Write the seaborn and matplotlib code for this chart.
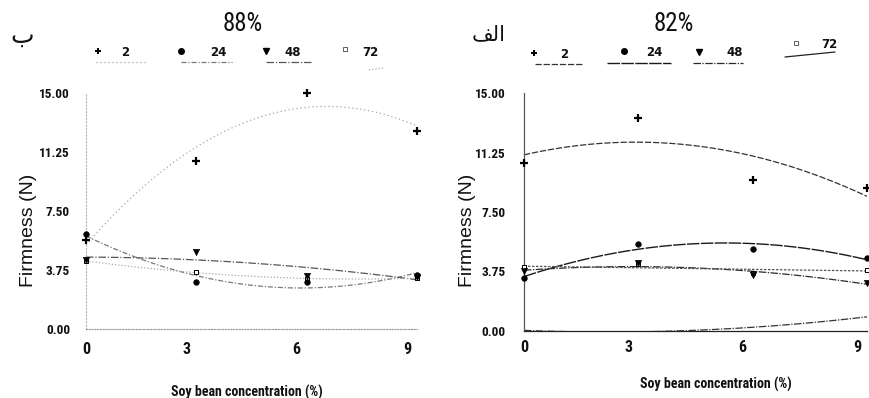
import matplotlib
matplotlib.use("Agg")
import matplotlib.pyplot as plt
import matplotlib.transforms as mtransforms
from matplotlib.lines import Line2D
from matplotlib import font_manager
import pandas as pd
import seaborn as sns

# soybean concentration (%) and storage time (h)
concentration = [0, 3, 6, 9]
hours = ["2", "24", "48", "72"]

# firmness (N), 88% panel
f88_h2 = [5.65, 10.65, 15.0, 12.6]
f88_h24 = [6.05, 3.0, 3.0, 3.45]
f88_h48 = [4.4, 4.9, 3.4, 3.3]
f88_h72 = [4.3, 3.65, 3.15, 3.25]

# firmness (N), 82% panel
f82_h2 = [10.6, 13.45, 9.5, 9.0]
f82_h24 = [3.3, 5.5, 5.15, 4.6]
f82_h48 = [3.75, 4.25, 3.55, 3.0]
f82_h72 = [4.0, 4.2, 3.65, 3.85]
f82_lower = [0.0, 0.0, 0.15, 0.9]

y_ticks = [0.0, 3.75, 7.5, 11.25, 15.0]
y_ticklabels = ["0.00", "3.75", "7.50", "11.25", "15.00"]
x_ticks = [0, 3, 6, 9]
x_ticklabels = ["0", "3", "6", "9"]


def long_table(series):
    rows = []
    for h, vals in zip(hours, series):
        for c, v in zip(concentration, vals):
            rows.append({"conc": c, "firm": v, "hours": h})
    return pd.DataFrame(rows)


df88 = long_table([f88_h2, f88_h24, f88_h48, f88_h72])
df82 = long_table([f82_h2, f82_h24, f82_h48, f82_h72])
df82_lower = pd.DataFrame({"conc": concentration, "firm": f82_lower})

sns.set_style("white")

# pick a condensed face for the numeric labels if one is available
installed = {f.name for f in font_manager.fontManager.ttflist}
narrow_candidates = ["Liberation Sans Narrow", "Roboto Condensed",
                     "DejaVu Sans Condensed", "Open Sans Condensed",
                     "Noto Sans Display", "Roboto"]
NARROW_FACE = next((n for n in narrow_candidates if n in installed), "DejaVu Sans")
NARROW = [NARROW_FACE, "DejaVu Sans"]
IS_CONDENSED = NARROW_FACE in ("Liberation Sans Narrow", "Roboto Condensed",
                               "DejaVu Sans Condensed", "Open Sans Condensed")
# scale the label sizes so their widths stay the same without a condensed face
k = 1.0 if IS_CONDENSED else 0.8
plt.rcParams["font.family"] = ["Liberation Sans", "DejaVu Sans"]

W, H = 869, 398
fig = plt.figure(figsize=(W / 100, H / 100), dpi=100)


def frac(x, y):
    return x / W, 1 - y / H


def add_axes(x0, x1, ytop, ybot):
    l, b = frac(x0, ybot)
    r, t = frac(x1, ytop)
    return fig.add_axes([l, b, r - l, t - b])


ax88 = add_axes(86, 417, 93, 329)
ax82 = add_axes(524, 867, 93.3, 330.7)

markers = {"2": "+", "24": "o", "48": "v", "72": "s"}
msize = {"2": 36, "24": 16, "48": 20, "72": 12}
order = {"72": 3, "2": 5, "24": 5, "48": 6}

line88 = {
    "2": dict(color="#a8a8a8", lw=0.9, ls=(0, (1, 2.2))),
    "24": dict(color="#787878", lw=0.9, ls=(0, (4, 1.5, 1, 1.5))),
    "48": dict(color="#555555", lw=0.9, ls=(0, (6, 1.5, 1, 1.5))),
    "72": dict(color="#a8a8a8", lw=0.9, ls=(0, (1, 1.6))),
}
line82 = {
    "2": dict(color="#333333", lw=0.9, ls=(0, (5, 1.5))),
    "24": dict(color="#1a1a1a", lw=1.0, ls=(0, (9, 1))),
    "48": dict(color="#2a2a2a", lw=0.9, ls=(0, (6, 1.2, 1, 1.2))),
    "72": dict(color="#555555", lw=0.9, ls=(0, (2, 1.2))),
}


def draw_panel(ax, df, lines):
    for h in hours:
        sub = df[df["hours"] == h]
        sns.regplot(data=sub, x="conc", y="firm", order=2, ci=None,
                    scatter=False, truncate=True, ax=ax, line_kws=lines[h])
    for h in hours:
        sub = df[df["hours"] == h]
        m = markers[h]
        if m == "+":
            kw = dict(color="black", edgecolor="black", linewidth=1.6)
        elif m == "s":
            kw = dict(facecolor="white", edgecolor="black", linewidth=0.7)
        else:
            kw = dict(color="black", edgecolor="black", linewidth=0.5)
        sns.scatterplot(data=sub, x="conc", y="firm", marker=m, s=msize[h],
                        ax=ax, clip_on=False, zorder=order[h], legend=False, **kw)


draw_panel(ax88, df88, line88)
draw_panel(ax82, df82, line82)
sns.regplot(data=df82_lower, x="conc", y="firm", order=2, ci=None,
            scatter=False, truncate=True, ax=ax82,
            line_kws=dict(color="#333333", lw=0.9, ls=(0, (6, 1.2, 1, 1.2))))

shift = mtransforms.ScaledTranslation(-10 / 100, 0, fig.dpi_scale_trans)

for ax, ypad, xpad, spine_l, spine_b in [
    (ax88, 11.5, 9.5, dict(color="#b0b0b0", lw=0.8, ls=(0, (1, 2))),
     dict(color="#9a9a9a", lw=0.8, ls=(0, (1, 1.5)))),
    (ax82, 13.5, 7, dict(color="#555555", lw=0.9, ls=(0, (3, 1))),
     dict(color="#222222", lw=0.9, ls=(0, (6, 1, 1, 1)))),
]:
    ax.set_xlim(0, 9)
    ax.set_ylim(0, 15)
    ax.set_xticks(x_ticks)
    ax.set_xticklabels(x_ticklabels)
    ax.set_yticks(y_ticks)
    ax.set_yticklabels(y_ticklabels)
    for s in ["top", "right"]:
        ax.spines[s].set_visible(False)
    ax.spines["left"].set(color=spine_l["color"], linewidth=spine_l["lw"],
                          linestyle=spine_l["ls"])
    ax.spines["bottom"].set(color=spine_b["color"], linewidth=spine_b["lw"],
                            linestyle=spine_b["ls"])
    ax.tick_params(axis="y", direction="in", length=2.5, width=0.6,
                   color=spine_l["color"], pad=ypad)
    ax.tick_params(axis="x", direction="in", length=3, width=0.6,
                   color=spine_b["color"], pad=xpad)
    for lab in ax.get_yticklabels():
        lab.set_fontfamily(NARROW)
        lab.set_fontweight("bold")
        lab.set_fontsize(9.5 * k)
        lab.set_color("#111111")
    for lab in ax.get_xticklabels():
        lab.set_fontfamily(NARROW)
        lab.set_fontweight("bold")
        lab.set_fontsize(11.5 * k)
        lab.set_color("#111111")
    for lab in ax.get_xticklabels()[1:]:
        lab.set_transform(lab.get_transform() + shift)
    ax.set_xlabel("Soy bean concentration (%)", fontfamily=NARROW,
                  fontweight="bold", fontsize=10 * (0.78 if not IS_CONDENSED else 1.0),
                  color="#111111")
    ax.set_ylabel("Firmness (N)", fontsize=14, color="#111111")
    ax.xaxis.label.set_va("center")
    ax.yaxis.label.set_va("center")
    ax.patch.set_alpha(0)

ax88.xaxis.set_label_coords(0.486, -0.267)
ax88.yaxis.set_label_coords(-0.175, 0.42)
ax82.xaxis.set_label_coords(0.56, -0.225)
ax82.yaxis.set_label_coords(-0.166, 0.424)

# panel headings
fig.text(*frac(243, 24), "88%", fontfamily=NARROW, fontsize=18 * k,
         ha="center", va="center", color="#111111")
fig.text(*frac(674, 24), "82%", fontfamily=NARROW, fontsize=18 * k,
         ha="center", va="center", color="#111111")
fig.text(*frac(22, 36), "\uFE8F", fontfamily=["DejaVu Sans"], fontsize=18,
         ha="center", va="center", color="#111111")
fig.text(*frac(489, 34), "\uFED2\uFEDF\uFE8D", fontfamily=["DejaVu Sans"],
         fontsize=15, ha="center", va="center", color="#111111")


def legend_item(h, mx, my, tx, ty, seg, style):
    m = markers[h]
    if m == "+":
        kw = dict(marker="+", markersize=5, markeredgewidth=1.4, color="black")
    elif m == "s":
        kw = dict(marker="s", markersize=3.5, markerfacecolor="white",
                  markeredgecolor="#444444", markeredgewidth=0.6, color="black")
    elif m == "o":
        kw = dict(marker="o", markersize=4, color="black")
    else:
        kw = dict(marker="v", markersize=4, color="black")
    x, y = frac(mx, my)
    fig.add_artist(Line2D([x], [y], linestyle="none", transform=fig.transFigure, **kw))
    fig.text(*frac(tx, ty), h, fontsize=8.5, fontweight="bold",
             fontfamily=["DejaVu Sans"], ha="center", va="center", color="#111111")
    (x0, y0), (x1, y1) = seg
    a, b = frac(x0, y0)
    c, d = frac(x1, y1)
    fig.add_artist(Line2D([a, c], [b, d], transform=fig.transFigure,
                          color=style["color"], lw=style["lw"], ls=style["ls"]))


legend_item("2", 98, 51, 125, 52, ((96, 62), (146, 62)), line88["2"])
legend_item("24", 181, 51, 218, 52, ((181, 62), (232, 62)), line88["24"])
legend_item("48", 266, 51, 293, 52, ((266, 62), (313, 62)), line88["48"])
legend_item("72", 345, 49, 370, 52, ((369, 70), (383, 68)), line88["72"])

legend_item("2", 534, 53, 564, 54, ((535, 64), (583, 64)), line82["2"])
legend_item("24", 624, 51, 654, 53, ((607, 63), (671, 63)), line82["24"])
legend_item("48", 699, 52, 735, 53, ((693, 63), (743, 63)), line82["48"])
legend_item("72", 796, 43, 829, 44, ((785, 57), (835, 52)),
            dict(color="#222222", lw=0.9, ls="-"))

fig.savefig("out.png", dpi=100)
